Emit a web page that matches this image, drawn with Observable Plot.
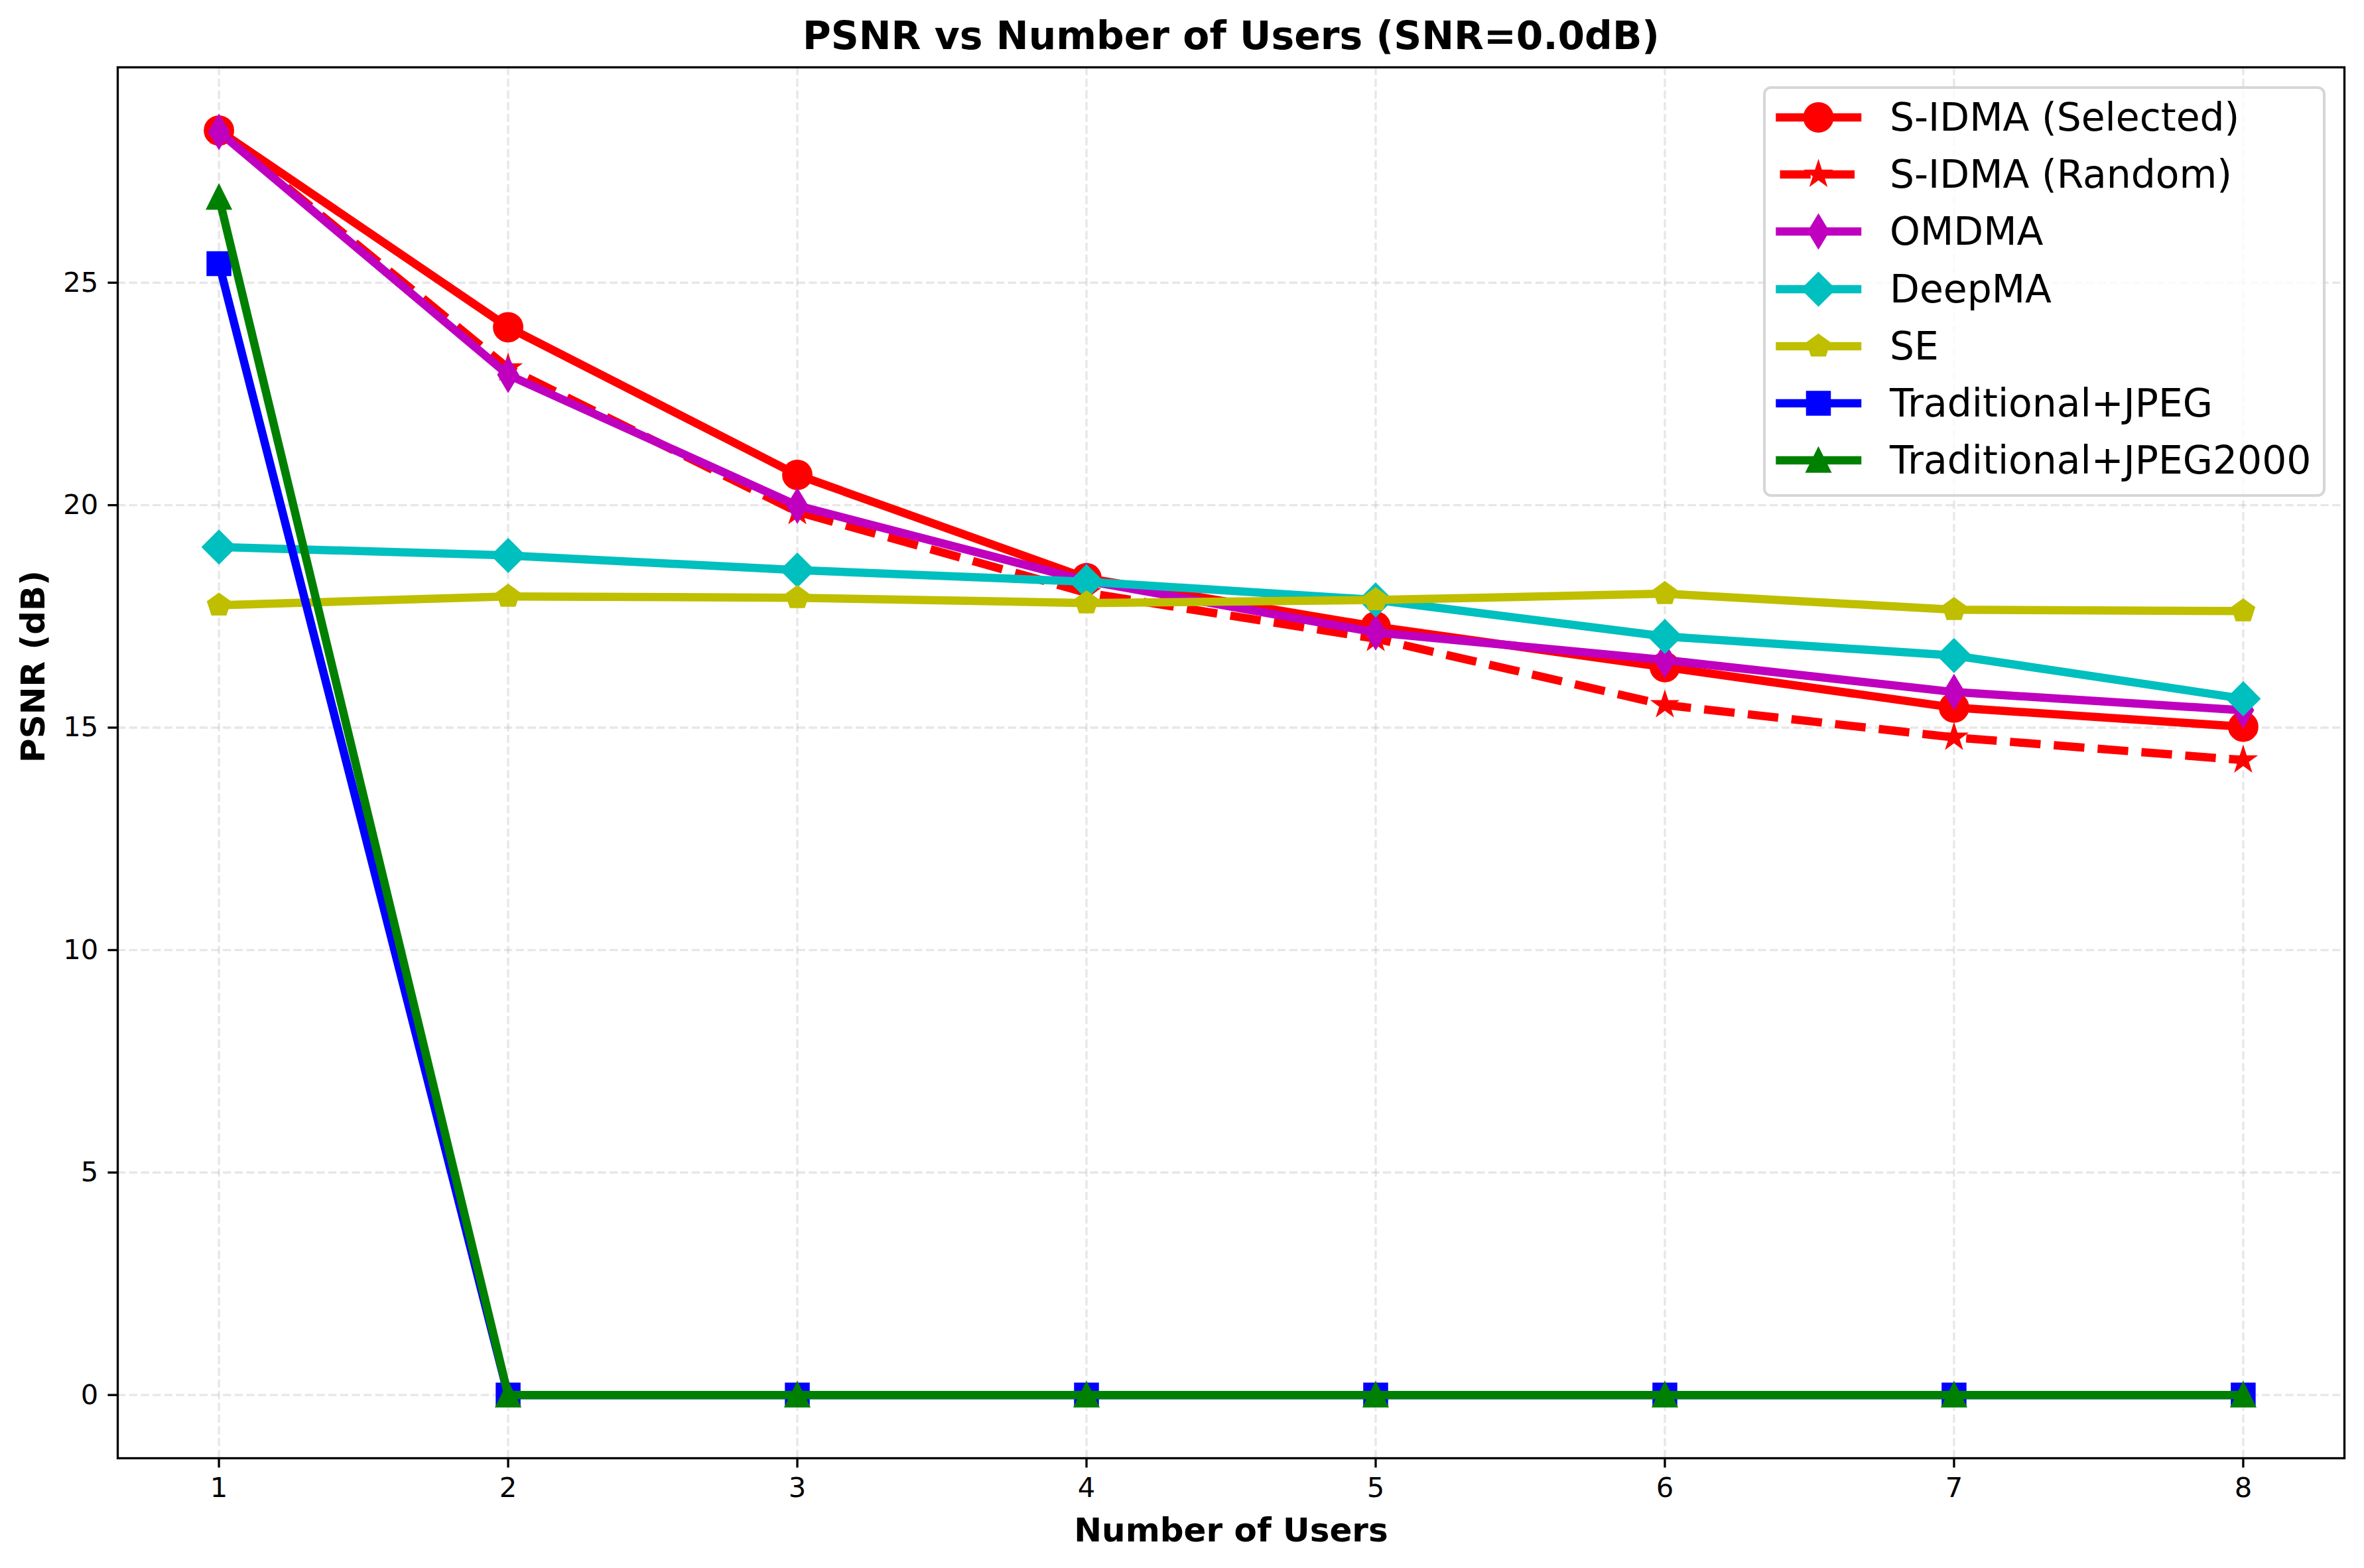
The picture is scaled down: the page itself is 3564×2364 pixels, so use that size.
<!DOCTYPE html>
<html><head><meta charset="utf-8">
<script src="https://cdn.jsdelivr.net/npm/d3@7"></script>
<script src="https://cdn.jsdelivr.net/npm/@observablehq/plot@0.6"></script>
<style>
html,body{margin:0;padding:0;background:#fff;}
#fig{position:relative;width:3564px;height:2364px;background:#fff;font-family:"DejaVu Sans",sans-serif;overflow:hidden;}
#fig > svg.plotroot{position:absolute;left:0;top:0;}
</style></head><body><div id="fig"></div>
<script>
// ---- data ----
const users = [1, 2, 3, 4, 5, 6, 7, 8];
const sidmaSelected = [28.42, 24.00, 20.68, 18.36, 17.27, 16.36, 15.45, 15.02];
const sidmaRandom   = [28.40, 23.08, 19.85, 18.03, 17.00, 15.51, 14.78, 14.27];
const omdma         = [28.39, 22.93, 19.99, 18.30, 17.14, 16.52, 15.80, 15.39];
const deepma        = [19.06, 18.87, 18.54, 18.28, 17.87, 17.05, 16.62, 15.65];
const se            = [17.75, 17.95, 17.92, 17.80, 17.87, 18.01, 17.65, 17.62];
const tradJpeg      = [25.43, 0, 0, 0, 0, 0, 0, 0];
const tradJpeg2000  = [26.92, 0, 0, 0, 0, 0, 0, 0];
const yTicks = [0, 5, 10, 15, 20, 25];
const seriesNames = ["S-IDMA (Selected)", "S-IDMA (Random)", "OMDMA", "DeepMA", "SE", "Traditional+JPEG", "Traditional+JPEG2000"];
const seriesValues = [sidmaSelected, sidmaRandom, omdma, deepma, se, tradJpeg, tradJpeg2000];
const titleText = "PSNR vs Number of Users (SNR=0.0dB)";
const xLabel = "Number of Users";
const yLabel = "PSNR (dB)";

// ---- styles ----
const PT = 300 / 72;
function sym(fn) { return {draw(c, size) { const ms = 2 * Math.sqrt(size / Math.PI); fn(c, ms); }}; }
const symStar = sym((c, ms) => { const R = ms / 2, r = R * 0.381966;
  for (let i = 0; i < 10; i++) { const a = -Math.PI / 2 + i * Math.PI / 5, rr = i % 2 ? r : R;
    const x = rr * Math.cos(a), y = rr * Math.sin(a); i ? c.lineTo(x, y) : c.moveTo(x, y); } c.closePath(); });
const symThinDiamond = sym((c, ms) => { const h = 0.7071 * ms, w = 0.6 * h;
  c.moveTo(0, -h); c.lineTo(w, 0); c.lineTo(0, h); c.lineTo(-w, 0); c.closePath(); });
const symDiamond = sym((c, ms) => { const h = 0.7071 * ms;
  c.moveTo(0, -h); c.lineTo(h, 0); c.lineTo(0, h); c.lineTo(-h, 0); c.closePath(); });
const symPentagon = sym((c, ms) => { const R = ms / 2;
  for (let i = 0; i < 5; i++) { const a = -Math.PI / 2 + i * 2 * Math.PI / 5;
    const x = R * Math.cos(a), y = R * Math.sin(a); i ? c.lineTo(x, y) : c.moveTo(x, y); } c.closePath(); });
const symSquare = sym((c, ms) => { const s = ms / 2; c.moveTo(-s, -s); c.lineTo(s, -s); c.lineTo(s, s); c.lineTo(-s, s); c.closePath(); });
const symTriangle = sym((c, ms) => { const s = ms / 2; c.moveTo(0, -s); c.lineTo(s, s); c.lineTo(-s, s); c.closePath(); });
const symCircle = d3.symbolCircle;

const styles = [
  {color: "#ff0000", symbol: "circle", legendSym: symCircle, ms: 10, dash: null},
  {color: "#ff0000", symbol: symStar, legendSym: symStar, ms: 8, dash: [3.7 * 3 * PT, 1.6 * 3 * PT]},
  {color: "#bf00bf", symbol: symThinDiamond, legendSym: symThinDiamond, ms: 8, dash: null},
  {color: "#00bfbf", symbol: symDiamond, legendSym: symDiamond, ms: 8, dash: null},
  {color: "#bfbf00", symbol: symPentagon, legendSym: symPentagon, ms: 8, dash: null},
  {color: "#0000ff", symbol: symSquare, legendSym: symSquare, ms: 8, dash: null},
  {color: "#008000", symbol: symTriangle, legendSym: symTriangle, ms: 8, dash: null}
];
const LW = 3 * PT, MEW = 1 * PT;

const rows = seriesNames.flatMap((name, k) => users.map((u, i) => ({users: u, psnr: seriesValues[k][i], series: name})));

const marks = [
  Plot.gridX(users, {stroke: "#b0b0b0", strokeOpacity: 0.3, strokeWidth: 0.8 * PT, strokeDasharray: `${2.96 * PT},${1.28 * PT}`}),
  Plot.gridY(yTicks, {stroke: "#b0b0b0", strokeOpacity: 0.3, strokeWidth: 0.8 * PT, strokeDasharray: `${2.96 * PT},${1.28 * PT}`})
];
seriesNames.forEach((name, k) => {
  const st = styles[k];
  const d = rows.filter(r => r.series === name);
  marks.push(Plot.line(d, {x: "users", y: "psnr", stroke: st.color, strokeWidth: LW,
    strokeLinejoin: "round", strokeLinecap: st.dash ? "butt" : "square",
    strokeDasharray: st.dash ? st.dash.join(",") : undefined}));
  marks.push(Plot.dot(d, {x: "users", y: "psnr", symbol: st.symbol, r: st.ms * PT / 2,
    fill: st.color, stroke: st.color, strokeWidth: MEW, strokeLinejoin: "miter"}));
});
marks.push(
  Plot.frame({stroke: "black", strokeWidth: 0.8 * PT}),
  Plot.axisX(users, {tickSize: 3.5 * PT, tickPadding: 3.5 * PT, fontSize: 10 * PT, strokeWidth: 0.8 * PT, label: null, tickFormat: d => String(d), fill: "black"}),
  Plot.axisY(yTicks, {tickSize: 3.5 * PT, tickPadding: 3.5 * PT, fontSize: 10 * PT, strokeWidth: 0.8 * PT, label: null, tickFormat: d => String(d), fill: "black"}),
  Plot.text([titleText], {text: d => d, frameAnchor: "top", dy: -46, fontSize: 14 * PT, fontWeight: "bold", lineAnchor: "middle", fill: "black"}),
  Plot.text([xLabel], {text: d => d, frameAnchor: "bottom", dy: 109, fontSize: 12 * PT, fontWeight: "bold", lineAnchor: "middle", fill: "black"}),
  Plot.text([yLabel], {text: d => d, frameAnchor: "left", dx: -127, rotate: -90, fontSize: 12 * PT, fontWeight: "bold", lineAnchor: "middle", fill: "black"})
);

const chart = Plot.plot({
  width: 3564, height: 2364,
  marginLeft: 177, marginRight: 30, marginTop: 101, marginBottom: 166,
  x: {domain: [0.65, 8.35], label: null},
  y: {domain: [-1.421, 29.841], label: null},
  style: {fontFamily: "DejaVu Sans", background: "white", color: "black", overflow: "visible"},
  marks
});
chart.classList.add("plotroot");
const fig = document.getElementById("fig");
fig.appendChild(chart);

// ---- legend (HTML overlay) ----
const leg = document.createElement("div");
leg.style.cssText = "position:absolute;left:2658px;top:130px;width:848px;height:619px;box-sizing:border-box;" +
  "border:4.17px solid rgba(204,204,204,0.8);border-radius:12px;background:rgba(255,255,255,0.8);";
fig.appendChild(leg);
seriesNames.forEach((name, i) => {
  const st = styles[i];
  const cy = 177 + 86.2 * i;
  const svg = d3.create("svg").attr("width", 160).attr("height", 100)
    .style("position", "absolute").style("left", "2661px").style("top", (cy - 50) + "px").style("overflow", "visible");
  const x0 = 2683.5 - 2661, x1 = 2800 - 2661, xm = 2741.5 - 2661;
  svg.append("line").attr("x1", x0).attr("x2", x1).attr("y1", 50).attr("y2", 50)
    .attr("stroke", st.color).attr("stroke-width", LW)
    .attr("stroke-linecap", st.dash ? "butt" : "square")
    .attr("stroke-dasharray", st.dash ? st.dash.join(",") : null);
  const r = st.ms * PT / 2;
  svg.append("path").attr("d", d3.symbol(st.legendSym, Math.PI * r * r)())
    .attr("transform", `translate(${xm},50)`)
    .attr("fill", st.color).attr("stroke", st.color).attr("stroke-width", MEW).attr("stroke-linejoin", "miter");
  fig.appendChild(svg.node());
  const t = document.createElement("div");
  t.textContent = name;
  t.style.cssText = `position:absolute;left:2849px;top:${cy}px;transform:translateY(-50%);font-family:"DejaVu Sans";font-size:${14 * PT}px;line-height:1;white-space:nowrap;color:black;`;
  fig.appendChild(t);
});
</script></body></html>
